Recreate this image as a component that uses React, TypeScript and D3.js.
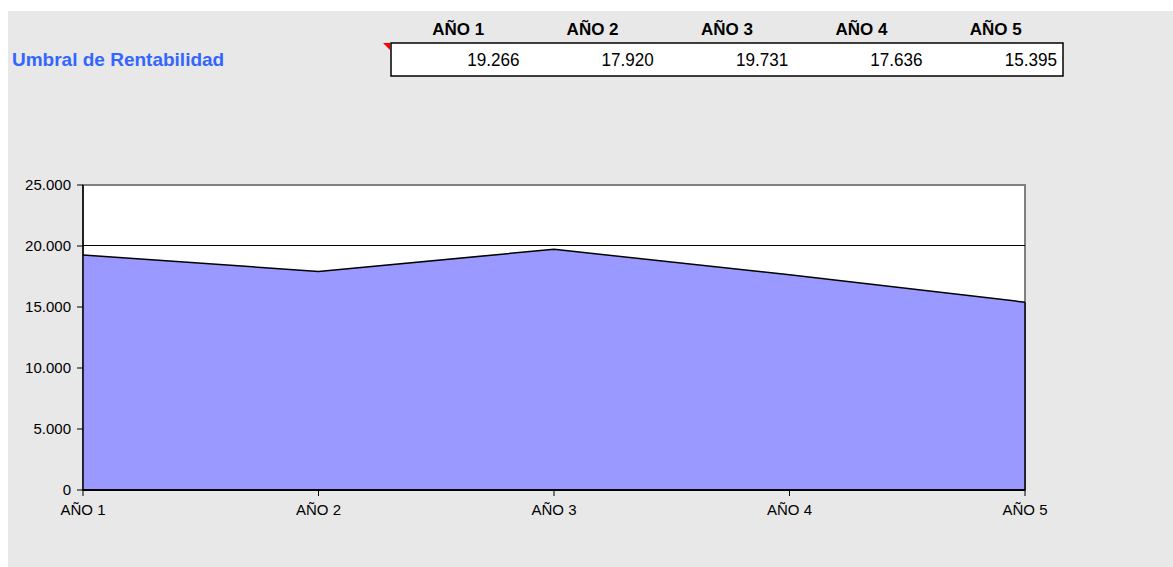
import * as d3 from 'd3';

const years = ['AÑO 1', 'AÑO 2', 'AÑO 3', 'AÑO 4', 'AÑO 5'];
const umbral = [19266, 17920, 19731, 17636, 15395];
const yTicks = [0, 5000, 10000, 15000, 20000, 25000];

const W = 1173;
const H = 567;
const plot = { left: 83, right: 1025, top: 185, bottom: 490 };
const table = { left: 391, right: 1063, top: 43, bottom: 76 };

const fmt = (v: number) => d3.format(',')(v).replace(/,/g, '.');

export default function App() {
  const x = d3.scalePoint<string>().domain(years).range([plot.left, plot.right]);
  const y = d3.scaleLinear().domain([0, 25000]).range([plot.bottom, plot.top]);

  const area = d3.area<number>()
    .x((_, i) => x(years[i])!)
    .y0(y(0))
    .y1(d => y(d));
  const line = d3.line<number>()
    .x((_, i) => x(years[i])!)
    .y(d => y(d));

  const col = d3.scaleBand<string>().domain(years).range([table.left, table.right]);

  return (
    <svg width={W} height={H} style={{ position: 'absolute', left: 0, top: 0 }}
      fontFamily="'Liberation Sans', Arial, sans-serif">
      <rect x={0} y={0} width={W} height={H} fill="#ffffff" />
      <rect x={8} y={11} width={W - 8} height={H - 11} fill="#e8e8e8" />

      {/* title and table */}
      <text x={12} y={66} fontSize={19} fontWeight="bold" fill="#3366ff">Umbral de Rentabilidad</text>
      {years.map(yr => (
        <text key={yr} x={col(yr)! + col.bandwidth() / 2} y={34.5} fontSize={17}
          fontWeight="bold" textAnchor="middle">{yr}</text>
      ))}
      <rect x={table.left} y={table.top} width={table.right - table.left}
        height={table.bottom - table.top} fill="#ffffff" stroke="#000" strokeWidth={1.5} />
      {umbral.map((v, i) => (
        <text key={i} transform={`translate(${col(years[i])! + col.bandwidth() - 6},66) scale(0.9,1)`}
          fontSize={19} textAnchor="end">{fmt(v)}</text>
      ))}
      <polygon points={`${table.left - 8},${table.top} ${table.left - 1},${table.top} ${table.left - 1},${table.top + 7}`}
        fill="#ff0000" />

      {/* plot area */}
      <rect x={plot.left} y={plot.top} width={plot.right - plot.left}
        height={plot.bottom - plot.top} fill="#ffffff" stroke="#808080" strokeWidth={2} />
      {yTicks.slice(1, -1).map(t => (
        <line key={t} x1={plot.left} x2={plot.right} y1={y(t) - 0.5} y2={y(t) - 0.5}
          stroke="#000" strokeWidth={1} />
      ))}
      <path d={area(umbral)!} fill="#9999ff" />
      <path d={line(umbral)!} fill="none" stroke="#000" strokeWidth={1.5} />
      <line x1={plot.right} x2={plot.right} y1={y(umbral[umbral.length - 1])} y2={plot.bottom}
        stroke="#000" strokeWidth={1.5} />

      {/* axes */}
      <line x1={plot.left} x2={plot.left} y1={plot.top} y2={plot.bottom} stroke="#000" strokeWidth={1.5} />
      <line x1={plot.left} x2={plot.right} y1={plot.bottom} y2={plot.bottom} stroke="#000" strokeWidth={2} />
      {yTicks.map(t => (
        <g key={t}>
          <line x1={plot.left - 6} x2={plot.left} y1={y(t)} y2={y(t)} stroke="#000" strokeWidth={1} />
          <text x={71} y={y(t)} dy="0.35em" fontSize={15} textAnchor="end">{fmt(t)}</text>
        </g>
      ))}
      {years.map(yr => (
        <g key={yr}>
          <line x1={x(yr)} x2={x(yr)} y1={plot.bottom} y2={plot.bottom + 6} stroke="#000" strokeWidth={1} />
          <text x={x(yr)} y={515} fontSize={15} textAnchor="middle">{yr}</text>
        </g>
      ))}
    </svg>
  );
}
